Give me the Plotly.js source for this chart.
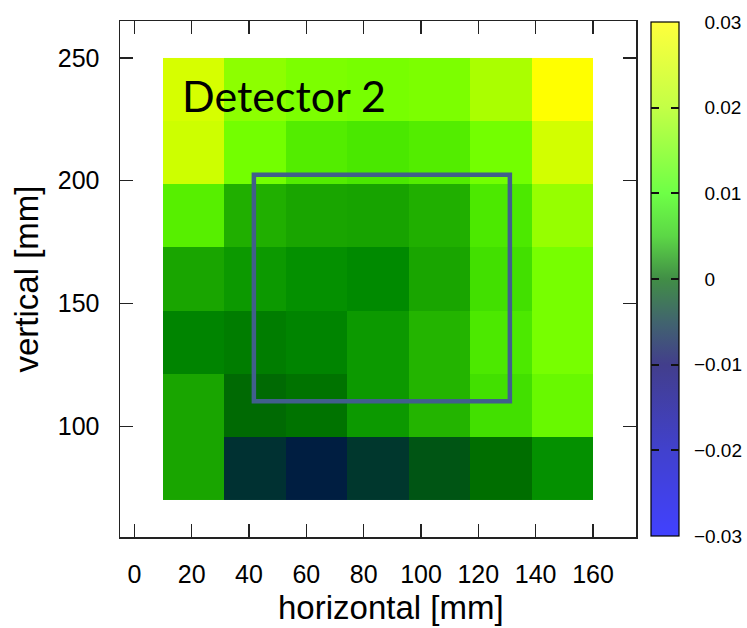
<!DOCTYPE html>
<html>
<head>
<meta charset="utf-8">
<script src="https://cdn.plot.ly/plotly-3.0.1.min.js"></script>
<style>
  html, body { margin: 0; padding: 0; background: #fff; }
  #chart { width: 747px; height: 628px; }
</style>
</head>
<body>
<div id="chart"></div>
<script>
// Cell centres of the 7 x 7 detector grid [mm]
const xCenters = [20.7, 42.1, 63.6, 85.0, 106.4, 127.9, 149.3];
const yCenters = [82.9, 108.6, 134.3, 160.0, 185.7, 211.4, 237.1];

// Asymmetry per cell, rows listed from the bottom row (y = 82.9) to the top row
const row1 = [0.0060, -0.0070, -0.0100, -0.0060, -0.0030, 0.0000, 0.0035];
const row2 = [0.0060, -0.0005, 0.0005, 0.0045, 0.0080, 0.0115, 0.0150];
const row3 = [0.0022, 0.0015, 0.0022, 0.0045, 0.0080, 0.0125, 0.0165];
const row4 = [0.0060, 0.0045, 0.0035, 0.0028, 0.0060, 0.0115, 0.0165];
const row5 = [0.0135, 0.0073, 0.0060, 0.0058, 0.0073, 0.0125, 0.0200];
const row6 = [0.0246, 0.0160, 0.0132, 0.0124, 0.0132, 0.0160, 0.0250];
const row7 = [0.0255, 0.0190, 0.0170, 0.0165, 0.0170, 0.0217, 0.0300];

const xTicks = [0, 20, 40, 60, 80, 100, 120, 140, 160];
const yTicks = [100, 150, 200, 250];
const cbTicks = [-0.03, -0.02, -0.01, 0, 0.01, 0.02, 0.03];
const cbLabels = ['\u22120.03', '\u22120.02', '\u22120.01', '0', '0.01', '0.02', '0.03'];

// Region of interest drawn as a box [mm]
const roiX = [41.7, 131.0];
const roiY = [110.2, 202.4];
const panelLabel = 'Detector 2';
const xTitle = 'horizontal [mm]';
const yTitle = 'vertical [mm]';

const zMin = -0.03, zMax = 0.03;
const z = [row1, row2, row3, row4, row5, row6, row7];

// palette used for the cells
const cellScale = [
  [0.0000, 'rgb(0,15,110)'],
  [0.3333, 'rgb(0,30,65)'],
  [0.4000, 'rgb(0,55,45)'],
  [0.4500, 'rgb(0,85,20)'],
  [0.5000, 'rgb(0,110,0)'],
  [0.5500, 'rgb(0,140,0)'],
  [0.6000, 'rgb(25,165,0)'],
  [0.6333, 'rgb(35,180,0)'],
  [0.7000, 'rgb(70,230,0)'],
  [0.7667, 'rgb(115,255,0)'],
  [0.8333, 'rgb(150,255,0)'],
  [0.9167, 'rgb(210,255,0)'],
  [1.0000, 'rgb(255,255,0)']
];

// palette of the colour key
const keyScale = [
  [0.0000, 'rgb(65,65,255)'],
  [0.1667, 'rgb(65,65,205)'],
  [0.3333, 'rgb(66,62,140)'],
  [0.4167, 'rgb(65,100,110)'],
  [0.5000, 'rgb(65,142,70)'],
  [0.5833, 'rgb(92,215,70)'],
  [0.6667, 'rgb(110,255,70)'],
  [0.8333, 'rgb(195,255,70)'],
  [1.0000, 'rgb(255,255,60)']
];
const clearScale = [[0, 'rgba(0,0,0,0)'], [1, 'rgba(0,0,0,0)']];

const W = 747, H = 628;
const M = { l: 120, r: 111, t: 21, b: 91, autoexpand: false };
const plotH = H - M.t - M.b;
const plotW = W - M.l - M.r;

// colour key geometry (pixels)
const cbLeft = 651, cbThick = 28, cbTop = 22, cbBottom = 536, dashLen = 8;
const cbLen = cbBottom - cbTop;
const toPaperX = px => (px - M.l) / plotW;
const toPaperY = py => (H - M.b - py) / plotH;
const cbY = toPaperY((cbTop + cbBottom) / 2);

const cells = {
  type: 'heatmap',
  x: xCenters, y: yCenters, z: z,
  zmin: zMin, zmax: zMax,
  colorscale: cellScale,
  showscale: false,
  hoverinfo: 'x+y+z'
};

// colour key with labels
const key = {
  type: 'heatmap',
  x: xCenters, y: yCenters, z: z,
  zmin: zMin, zmax: zMax,
  colorscale: keyScale,
  opacity: 0,
  hoverinfo: 'skip',
  showscale: true,
  colorbar: {
    x: toPaperX(cbLeft), xanchor: 'left', xpad: 0,
    y: cbY, yanchor: 'middle', ypad: 0,
    lenmode: 'pixels', len: cbLen,
    thicknessmode: 'pixels', thickness: cbThick,
    outlinewidth: 1.2, outlinecolor: '#000',
    tickmode: 'array', tickvals: cbTicks,
    ticktext: cbLabels.map(s => (s[0] === '\u2212' ? s : '\u00a0\u00a0' + s)),
    ticks: 'outside', ticklen: 11, tickcolor: 'rgba(0,0,0,0)',
    tickfont: { family: 'Liberation Sans, Arial, sans-serif', size: 19, color: '#000' }
  }
};

// thin transparent keys whose inside ticks give the short dashes on each inner edge
function dashKey(leftPx) {
  return {
    type: 'heatmap',
    x: xCenters, y: yCenters, z: z,
    zmin: zMin, zmax: zMax,
    colorscale: clearScale,
    opacity: 0,
    hoverinfo: 'skip',
    showscale: true,
    colorbar: {
      x: toPaperX(leftPx), xanchor: 'left', xpad: 0,
      y: cbY, yanchor: 'middle', ypad: 0,
      lenmode: 'pixels', len: cbLen,
      thicknessmode: 'pixels', thickness: dashLen,
      outlinewidth: 0,
      tickmode: 'array', tickvals: cbTicks.slice(1, -1),
      ticks: 'inside', ticklen: dashLen, tickwidth: 2, tickcolor: '#111',
      showticklabels: false
    }
  };
}

const shapes = [{
  type: 'rect', xref: 'x', yref: 'y',
  x0: roiX[0], x1: roiX[1], y0: roiY[0], y1: roiY[1],
  line: { color: 'rgb(65,95,140)', width: 4.5 },
  fillcolor: 'rgba(0,0,0,0)'
}];

const axisCommon = {
  showgrid: false, zeroline: false,
  showline: true, linecolor: '#222', linewidth: 1.5, mirror: 'ticks',
  ticks: 'inside', ticklen: 13, tickwidth: 1.5, tickcolor: '#222',
  tickmode: 'array',
  tickfont: { family: 'Liberation Sans, Arial, sans-serif', size: 25, color: '#000' }
};

const layout = {
  width: W, height: H,
  margin: M,
  paper_bgcolor: '#fff', plot_bgcolor: '#fff',
  showlegend: false,
  xaxis: Object.assign({}, axisCommon, {
    range: [-5, 175], tickvals: xTicks,
    ticklabelstandoff: 14
  }),
  yaxis: Object.assign({}, axisCommon, {
    range: [55, 265], tickvals: yTicks,
    ticklabelstandoff: 14,
    title: { text: yTitle, standoff: 9,
             font: { family: 'Liberation Sans, Arial, sans-serif', size: 33, color: '#000' } }
  }),
  shapes: shapes,
  annotations: [{
    text: panelLabel, xref: 'paper', yref: 'paper',
    x: toPaperX(180), y: toPaperY(95), xanchor: 'left', yanchor: 'middle',
    showarrow: false,
    font: { family: 'Lato, Open Sans, sans-serif', size: 43, color: '#000' }
  }, {
    // horizontal axis title
    text: xTitle, xref: 'paper', yref: 'paper',
    x: toPaperX(391), y: toPaperY(607), xanchor: 'center', yanchor: 'middle',
    showarrow: false,
    font: { family: 'Liberation Sans, Arial, sans-serif', size: 33, color: '#000' }
  }]
};

Plotly.newPlot('chart',
  [cells, key, dashKey(cbLeft), dashKey(cbLeft + cbThick - dashLen)],
  layout, { displayModeBar: false, staticPlot: true });
</script>
</body>
</html>
